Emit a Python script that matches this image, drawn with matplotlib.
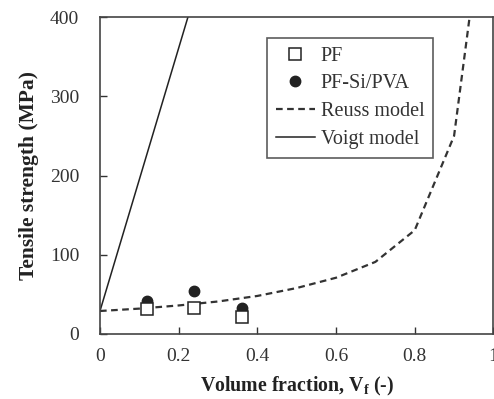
import numpy as np
import matplotlib
matplotlib.use("Agg")
import matplotlib.pyplot as plt

plt.rcParams['font.family'] = ['Liberation Serif', 'DejaVu Serif']
plt.rcParams['mathtext.fontset'] = 'custom'
plt.rcParams['mathtext.rm'] = 'Liberation Serif:bold'
plt.rcParams['mathtext.bf'] = 'Liberation Serif:bold'

# measured points
vf_exp = [0.12, 0.24, 0.36]
pf = [31.5, 33, 21]
pf_si_pva = [41.5, 54.5, 33]

# model curves
vf_reuss = [0, 0.1, 0.2, 0.3, 0.4, 0.5, 0.6, 0.7, 0.8, 0.9, 0.95]
reuss = [29, 32, 36, 41, 48, 58, 71, 91, 131, 250, 440]
vf_voigt = [0, 0.1, 0.2, 0.25]
voigt = [29, 195, 361, 444]

xticks = [0, 0.2, 0.4, 0.6, 0.8, 1]
xticklabels = ['0', '0.2', '0.4', '0.6', '0.8', '1']
yticks = [0, 100, 200, 300, 400]

fig = plt.figure(figsize=(4.94, 3.99), dpi=100)
ax = fig.add_axes([0.2024, 0.163, 0.7964, 0.794])

ax.plot(vf_exp, pf, linestyle='none', marker='s', markersize=8,
        markerfacecolor='white', markeredgecolor='#222222', markeredgewidth=1.1,
        label='PF', zorder=4)
ax.plot(vf_exp, pf_si_pva, linestyle='none', marker='o', markersize=7.5,
        color='#222222', label='PF-Si/PVA', zorder=3)
ax.plot(vf_reuss, reuss, linestyle=(0, (3, 2)), linewidth=1.6,
        color='#333333', label='Reuss model')
ax.plot(vf_voigt, voigt, linestyle='-', linewidth=1.1,
        color='#222222', label='Voigt model')

ax.set_xlim(0, 1)
ax.set_ylim(0, 400)
ax.set_xticks(xticks)
ax.set_xticklabels(xticklabels)
ax.set_yticks(yticks)
ax.tick_params(direction='in', length=5, width=1, colors='#333333',
               labelsize=14, top=False, right=False)
ax.tick_params(axis='x', pad=10)
ax.tick_params(axis='y', pad=15)
for s in ax.spines.values():
    s.set_color('#444444')
    s.set_linewidth(1.2)

ax.set_xlabel(r'Volume fraction, V$_{\rm f}$ (-)', fontsize=14.3,
              fontweight='bold', color='#222222', labelpad=7)
ax.set_ylabel('Tensile strength (MPa)', fontsize=15.5,
              fontweight='bold', color='#222222', labelpad=8)

leg = ax.legend(loc='upper left', bbox_to_anchor=(0.425, 0.935), fontsize=14.5,
                frameon=True, fancybox=False, edgecolor='#333333',
                handlelength=1.9, handletextpad=0.3, borderpad=0.45,
                labelspacing=0.42, borderaxespad=0)
leg.get_frame().set_linewidth(1.2)
for t in leg.get_texts():
    t.set_color('#333333')

fig.savefig('out.png', dpi=100)
